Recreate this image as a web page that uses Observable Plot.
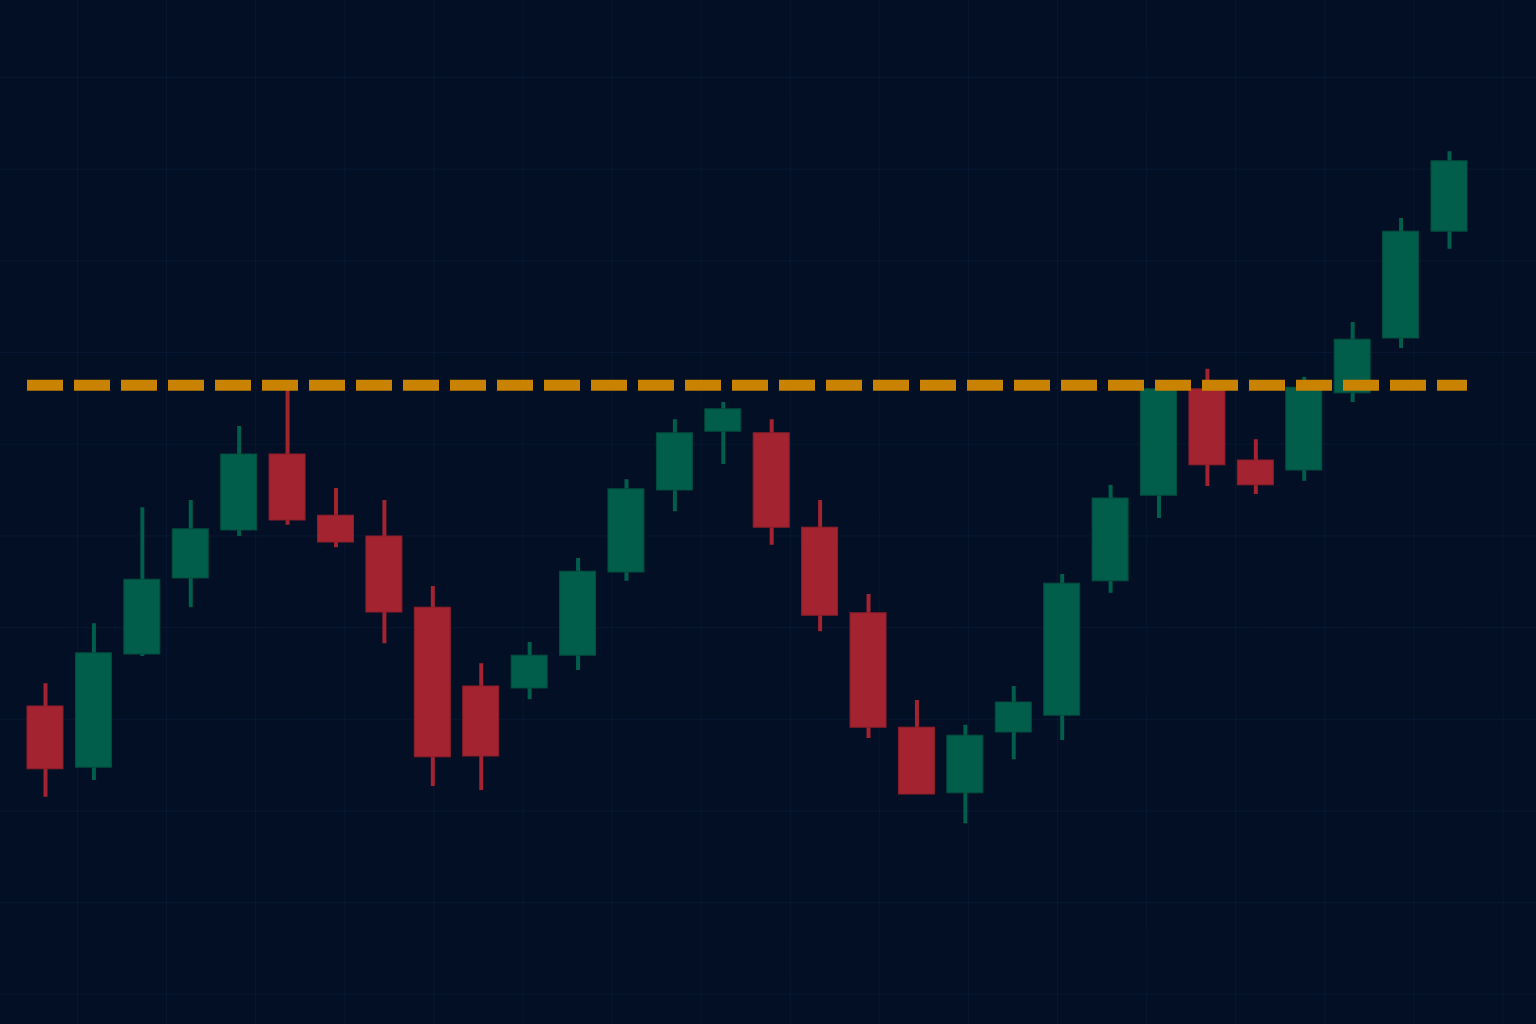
<!DOCTYPE html>
<html>
<head>
<meta charset="utf-8">
<script src="https://cdn.jsdelivr.net/npm/d3@7"></script>
<script src="https://cdn.jsdelivr.net/npm/@observablehq/plot@0.6"></script>
<style>
  html, body { margin: 0; padding: 0; }
  body {
    width: 1536px; height: 1024px; overflow: hidden;
    background-color: #020f24;
    background-image:
      linear-gradient(to right, rgba(30,60,110,0.18) 1px, transparent 1px),
      linear-gradient(to bottom, rgba(30,60,110,0.18) 1px, transparent 1px);
    background-size: 89.1px 91.7px;
    background-position: 77px 77px;
  }
  #chart svg { display: block; background: transparent; }
</style>
</head>
<body>
<div id="chart"></div>
<script>
const periods = d3.range(1, 31);
const open  = [39.75, 32.1, 46.25, 55.75, 61.75, 71.25, 63.6, 61.0, 52.1, 42.25, 42.0, 46.1, 56.5, 66.75, 74.1, 73.9, 62.1, 51.4, 37.1, 28.9, 36.5, 38.6, 55.4, 66.1, 79.4, 70.5, 69.25, 78.9, 85.75, 99.1];
const high  = [42.6, 50.1, 64.6, 65.5, 74.75, 79.25, 67.0, 65.5, 54.75, 45.1, 47.75, 58.25, 68.1, 75.6, 77.75, 75.6, 65.5, 53.75, 40.5, 37.4, 42.25, 56.25, 67.4, 79.5, 81.9, 73.1, 80.9, 87.75, 100.75, 109.1];
const low   = [28.4, 30.5, 46.0, 52.1, 61.0, 62.4, 59.6, 47.6, 29.75, 29.25, 40.6, 44.25, 55.4, 64.1, 70.0, 59.9, 49.1, 35.75, 28.75, 25.1, 33.1, 35.5, 53.9, 63.25, 67.25, 66.25, 67.9, 77.75, 84.5, 96.9];
const close = [31.9, 46.4, 55.6, 61.9, 71.25, 63.0, 60.25, 51.5, 33.4, 33.5, 46.1, 56.6, 66.9, 73.9, 76.9, 62.1, 51.1, 37.1, 28.75, 36.1, 40.25, 55.1, 65.75, 79.4, 69.9, 67.4, 79.6, 85.6, 99.1, 107.9];
const resistance = [79.9];

const data = periods.map((p, i) => ({
  period: p, open: open[i], high: high[i], low: low[i], close: close[i],
  dir: close[i] >= open[i] ? "up" : "down"
}));

const fills = { up: "#005e4b", down: "#a32330" };
const strokes = { up: "#004d3e", down: "#8e1e2b" };

const chart = Plot.plot({
  width: 1536,
  height: 1024,
  marginTop: 0,
  marginBottom: 0,
  marginLeft: 27,
  marginRight: 69,
  style: { background: "transparent", overflow: "visible" },
  x: { type: "band", domain: periods, paddingInner: 0.256, paddingOuter: 0, round: false, axis: null },
  y: { domain: [0, 128], axis: null },
  marks: [
    Plot.ruleX(data, {
      x: "period", y1: "low", y2: "high",
      stroke: d => fills[d.dir], strokeWidth: 4
    }),
    Plot.barY(data, {
      x: "period", y1: "open", y2: "close",
      fill: d => fills[d.dir], stroke: d => strokes[d.dir], strokeWidth: 1
    }),
    Plot.ruleY(resistance, {
      stroke: "#c98300", strokeWidth: 11, strokeDasharray: "36,11"
    })
  ]
});
document.getElementById("chart").appendChild(chart);
</script>
</body>
</html>
